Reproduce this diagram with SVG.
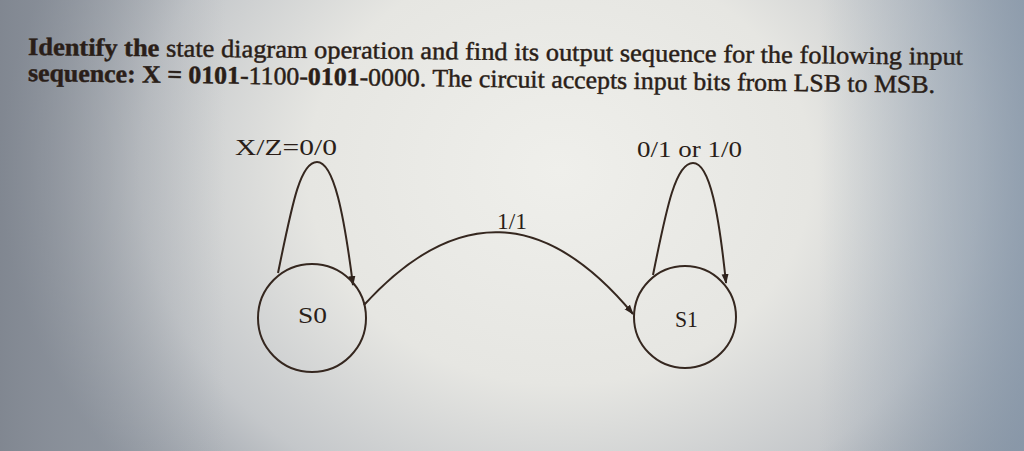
<svg xmlns="http://www.w3.org/2000/svg" width="1024" height="451" viewBox="0 0 1024 451">
  <defs>
    <radialGradient id="bg" cx="560" cy="170" r="560" gradientUnits="userSpaceOnUse" gradientTransform="translate(560 170) scale(1 0.85) translate(-560 -170)">
      <stop offset="0" stop-color="#efefeb"/>
      <stop offset="0.45" stop-color="#e6e6e2"/>
      <stop offset="0.75" stop-color="#c4c7ca"/>
      <stop offset="1" stop-color="#8f96a0"/>
    </radialGradient>
    <linearGradient id="right" x1="0" y1="0" x2="1" y2="0">
      <stop offset="0.8" stop-color="#8fa0b2" stop-opacity="0"/>
      <stop offset="1" stop-color="#8798ab" stop-opacity="0.75"/>
    </linearGradient>
    <linearGradient id="left" x1="0" y1="0" x2="1" y2="0">
      <stop offset="0" stop-color="#7d838d" stop-opacity="0.8"/>
      <stop offset="0.22" stop-color="#9aa0a8" stop-opacity="0"/>
    </linearGradient>
    <marker id="arr" viewBox="0 0 10 10" refX="9" refY="5" markerWidth="10" markerHeight="10" markerUnits="userSpaceOnUse" orient="auto">
      <path d="M0,1.5 L10,5 L0,8.5 Z" fill="#2e221c"/>
    </marker>
    <style>
      .t { font-family: "Liberation Serif", "Times New Roman", serif; fill: #2a1e18; }
      .h { font-size: 25px; stroke: #2a1e18; stroke-width: 0.45px; }
      .lbl { font-size: 23px; }
      .edge { fill: none; stroke: #35271f; stroke-width: 2; }
      .node { fill: none; stroke: #35271f; stroke-width: 2; }
    </style>
  </defs>
  <rect width="1024" height="451" fill="url(#bg)"/>
  <rect width="1024" height="451" fill="url(#left)"/>
  <rect width="1024" height="451" fill="url(#right)"/>

  <g id="heading">
    <text class="t h" x="28" y="55" textLength="935" lengthAdjust="spacingAndGlyphs" transform="rotate(0.6 28 55)"><tspan font-weight="bold">Identify the</tspan> state diagram operation and find its output sequence for the following input</text>
    <text class="t h" x="28" y="81" textLength="907" lengthAdjust="spacingAndGlyphs" transform="rotate(0.75 28 81)"><tspan font-weight="bold">sequence: X = 0101</tspan>-1100-<tspan font-weight="bold">0101</tspan>-0000. The circuit accepts input bits from LSB to MSB.</text>
  </g>

  <g id="connectors">
    <path class="edge" d="M278,273 C292,205 300,162 317,162 C334,162 344,215 353,285" marker-end="url(#arr)"/>
    <path class="edge" d="M653,275 C667,205 676,163 693,163 C710,163 719,215 726,283" marker-end="url(#arr)"/>
    <path class="edge" d="M364,305 Q501,155 633,314" marker-end="url(#arr)"/>
    <text class="t lbl" x="235" y="155" textLength="102" lengthAdjust="spacingAndGlyphs">X/Z=0/0</text>
    <text class="t lbl" x="637" y="157" textLength="105" lengthAdjust="spacingAndGlyphs">0/1 or 1/0</text>
    <text class="t lbl" x="497" y="229" textLength="30" lengthAdjust="spacingAndGlyphs">1/1</text>
  </g>

  <g id="S0">
    <circle class="node" cx="312" cy="318" r="54"/>
    <text class="t lbl" x="298" y="323" textLength="29" lengthAdjust="spacingAndGlyphs">S0</text>
  </g>
  <g id="S1">
    <circle class="node" cx="685" cy="317" r="51"/>
    <text class="t lbl" x="675" y="327" textLength="23" lengthAdjust="spacingAndGlyphs">S1</text>
  </g>
</svg>
